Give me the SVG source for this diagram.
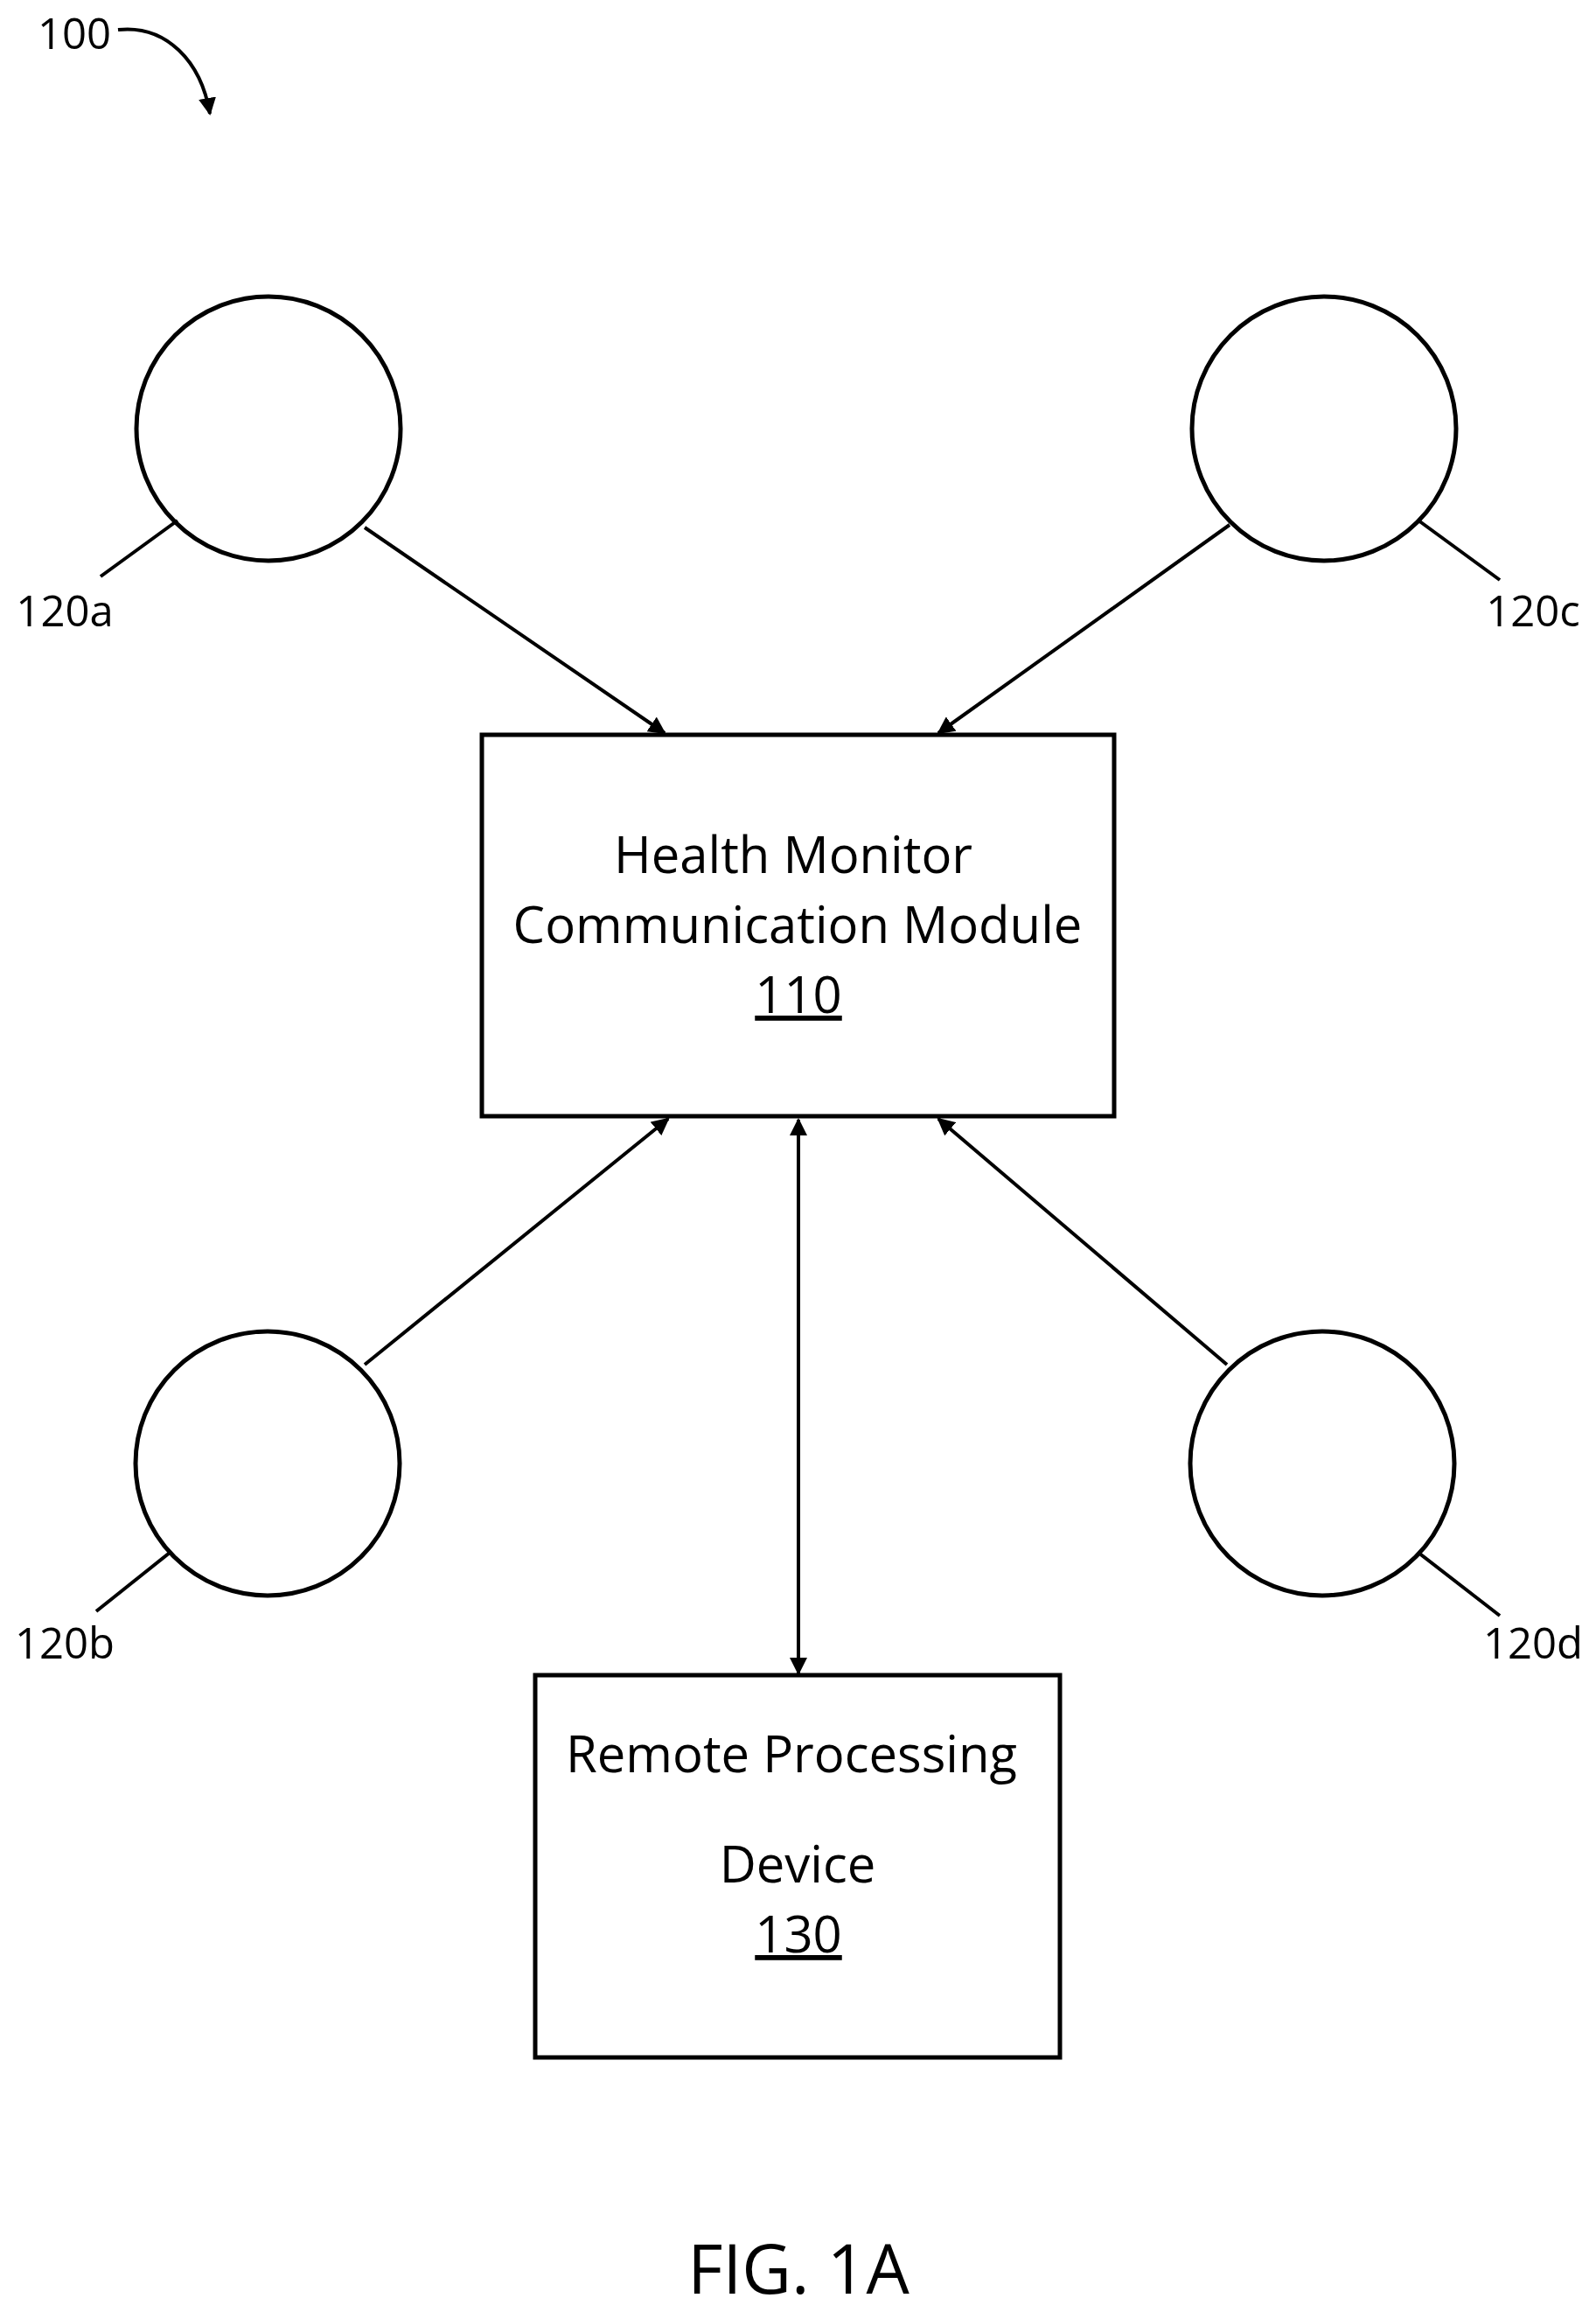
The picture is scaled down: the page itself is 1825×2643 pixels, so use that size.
<svg xmlns="http://www.w3.org/2000/svg" width="1825" height="2643" viewBox="0 0 1825 2643">
<style>
.s{fill:none;stroke:#000;stroke-width:5}
.l{stroke:#000;stroke-width:4;fill:none}
.t{font-family:"Open Sans","Liberation Sans",sans-serif;font-size:58px;text-anchor:middle;fill:#000}
.r{font-family:"Open Sans","Liberation Sans",sans-serif;font-size:49px;text-anchor:middle;fill:#000}
</style>
<defs><marker id="a" viewBox="0 0 10 10" refX="9" refY="5" markerWidth="5" markerHeight="5" orient="auto-start-reverse" markerUnits="strokeWidth"><path d="M0,0L10,5L0,10z"/></marker></defs>
<rect width="1825" height="2643" fill="#fff"/>
<g id="ref100"><text class="r" x="85" y="56">100</text><path class="l" d="M135,34 C190,28 230,70 240,130" marker-end="url(#a)"/></g>
<g id="n110"><rect class="s" x="551" y="840" width="723" height="436"/><text class="t" x="907" y="998">Health Monitor</text><text class="t" x="912" y="1078">Communication Module</text><text class="t" x="913" y="1158" text-decoration="underline">110</text></g>
<g id="n130"><rect class="s" x="612" y="1915" width="600" height="437"/><text class="t" x="905" y="2026">Remote Processing</text><text class="t" x="912" y="2152">Device</text><text class="t" x="913" y="2232" text-decoration="underline">130</text></g>
<g id="n120a"><circle class="s" cx="307" cy="490" r="151"/><line class="l" x1="203" y1="595" x2="115" y2="659"/><text class="r" x="74" y="716">120a</text></g>
<g id="n120c"><circle class="s" cx="1514" cy="490" r="151"/><line class="l" x1="1622" y1="595" x2="1715" y2="663"/><text class="r" x="1753" y="716">120c</text></g>
<g id="n120b"><circle class="s" cx="306" cy="1673" r="151"/><line class="l" x1="194" y1="1775" x2="110" y2="1842"/><text class="r" x="74" y="1896">120b</text></g>
<g id="n120d"><circle class="s" cx="1512" cy="1673" r="151"/><line class="l" x1="1622" y1="1775" x2="1715" y2="1847"/><text class="r" x="1753" y="1896">120d</text></g>
<g id="connectors">
<line class="l" x1="417" y1="603" x2="760" y2="838" marker-end="url(#a)"/>
<line class="l" x1="1406" y1="600" x2="1073" y2="838" marker-end="url(#a)"/>
<line class="l" x1="417" y1="1560" x2="764" y2="1279" marker-end="url(#a)"/>
<line class="l" x1="1403" y1="1560" x2="1073" y2="1279" marker-end="url(#a)"/>
<line class="l" x1="913" y1="1280" x2="913" y2="1913" marker-start="url(#a)" marker-end="url(#a)"/>
</g>
<text class="t" x="913" y="2622" style="font-size:78px">FIG. 1A</text>
</svg>
